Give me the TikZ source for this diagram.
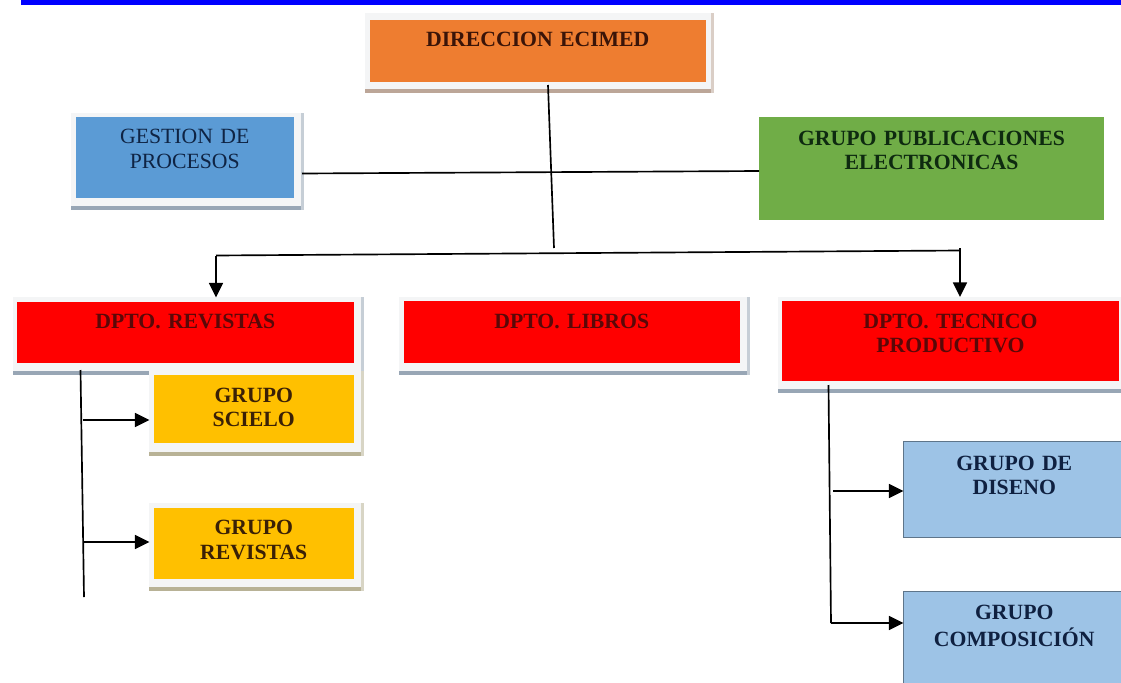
\documentclass[tikz,border=0pt]{standalone}
\usepackage{fontspec}
\setmainfont{Liberation Serif}
\usetikzlibrary{arrows.meta}
\definecolor{cOrange}{HTML}{EE7D30}
\definecolor{cMid}{HTML}{5B9BD5}
\definecolor{cGreen}{HTML}{70AD47}
\definecolor{cRed}{HTML}{FF0000}
\definecolor{cGold}{HTML}{FFC000}
\definecolor{cPale}{HTML}{9DC3E6}
\definecolor{cPanel}{HTML}{F4F5F6}
\definecolor{cBandB}{HTML}{98A6B5}
\definecolor{cBandO}{HTML}{BCA698}
\definecolor{cBandY}{HTML}{B8B296}
\definecolor{tOrange}{HTML}{3A1408}
\definecolor{tBlue}{HTML}{0F2444}
\definecolor{tGreen}{HTML}{0E2A10}
\definecolor{tRed}{HTML}{5A0808}
\definecolor{tGold}{HTML}{3A2006}
\definecolor{tPale}{HTML}{0F2040}
\tikzset{
  x=0.75pt,y=-0.75pt,
  boxbase/.style={rectangle,inner sep=0pt,outer sep=0pt,anchor=north,align=center},
  bDir/.style={boxbase,fill=cOrange,text=tOrange},
  bGes/.style={boxbase,fill=cMid,text=tBlue},
  bPub/.style={boxbase,fill=cGreen,text=tGreen},
  bDep/.style={boxbase,fill=cRed,text=tRed},
  bGold/.style={boxbase,fill=cGold,text=tGold},
  bPale/.style={boxbase,fill=cPale,draw=cPale!60!black,line width=0.6pt,text=tPale},
  conn/.style={draw=black,line width=1.25pt},
  arr/.style={conn,-{Triangle[length=11pt,width=10.5pt]}},
}
% panel behind a box: x1 y1 x2 y2 band colour
\newcommand{\panelbg}[5]{%
  \fill[cPanel] (#1,#2) rectangle (#3,#4);
  \fill[#5] (#1,#4-4.5) rectangle (#3,#4);
  \fill[#5!55!white] (#3-3,#2) rectangle (#3,#4);
}
% name, style, x1, y1, x2, y2, first baseline y, line skip (px), text
\newcommand{\labbox}[9]{%
  \pgfmathsetmacro{\bw}{(#5-#3)*0.75}%
  \pgfmathsetmacro{\bh}{(#7-#4)*0.75}%
  \pgfmathsetmacro{\bd}{(#6-#7)*0.75}%
  \pgfmathsetmacro{\bs}{#8*0.75}%
  \pgfmathsetmacro{\cx}{(#3+#5)/2}%
  \node[#2,text width=\bw pt,text height=\bh pt,text depth=\bd pt,
        font=\fontsize{16.3}{\bs}\selectfont] (#1) at (\cx,#4) {#9};%
}
\begin{document}
\begin{tikzpicture}
\useasboundingbox (0,0) rectangle (1121,682);
\fill[white] (0,0) rectangle (1121,682);
\fill[blue] (21,0) rectangle (1121,5);

\panelbg{365}{13}{714}{93}{cBandO}
\panelbg{71}{113}{304}{210}{cBandB}
\panelbg{13}{297}{364}{375}{cBandB}
\panelbg{399}{297}{750}{375}{cBandB}
\panelbg{778}{297}{1124}{393}{cBandB}
\panelbg{149}{371}{364}{456}{cBandY}
\panelbg{149}{503}{364}{591}{cBandY}

\labbox{dir}{bDir}{369.5}{20}{706}{81.5}{46.5}{24}{\bfseries DIRECCION ECIMED}
\labbox{ges}{bGes}{76}{116.5}{293.5}{198}{143.3}{25.5}{GESTION DE\\PROCESOS}
\labbox{pub}{bPub}{759}{116.5}{1104}{220}{145}{24}{\bfseries GRUPO PUBLICACIONES\\ELECTRONICAS}
\labbox{rev}{bDep}{17}{301.5}{353.5}{363}{328}{24}{\bfseries DPTO. REVISTAS}
\labbox{lib}{bDep}{403.5}{301}{740}{362.5}{328}{24}{\bfseries DPTO. LIBROS}
\labbox{tec}{bDep}{782}{301}{1119}{380.5}{328}{24.5}{\bfseries DPTO. TECNICO\\PRODUCTIVO}
\labbox{sci}{bGold}{153.5}{375}{354}{443}{402}{24.5}{\bfseries GRUPO\\SCIELO}
\labbox{grv}{bGold}{153.5}{508}{354}{579}{534}{25}{\bfseries GRUPO\\REVISTAS}
\labbox{dis}{bPale}{903.5}{441.5}{1125}{537}{470.5}{24}{\bfseries GRUPO DE\\DISENO}
\labbox{com}{bPale}{903.5}{591}{1125}{690}{619}{27}{\bfseries GRUPO\\COMPOSICIÓN}

\coordinate (dirOut) at (548,85);
\coordinate (trunkEnd) at (554,248);
\coordinate (gesOut) at (302,173.5);
\coordinate (pubIn) at (759,171);
\coordinate (busL) at (216,255.5);
\coordinate (busR) at (960,250.5);
\coordinate (busRtop) at (960,248);
\coordinate (revDrop) at (80.5,370);
\coordinate (revEnd) at (84,597);
\coordinate (revA) at (83,420);
\coordinate (revB) at (84,542);
\coordinate (tecDrop) at (828.5,385);
\coordinate (tecEnd) at (831,623);
\coordinate (tecA) at (833,491);

\draw[conn] (dirOut) -- (trunkEnd);
\draw[conn] (gesOut) -- (pubIn);
\draw[conn] (busL) -- (busR);
\draw[arr,shorten >=3pt] (busL) -- (busL |- rev.north);
\draw[arr,shorten >=3pt] (busRtop) -- (busR |- tec.north);
\draw[conn] (revDrop) -- (revEnd);
\draw[arr,shorten >=3pt] (revA) -- (revA -| sci.west);
\draw[arr,shorten >=3pt] (revB) -- (revB -| grv.west);
\draw[conn] (tecDrop) -- (tecEnd);
\draw[arr] (tecA) -- (tecA -| dis.west);
\draw[arr] (tecEnd) -- (tecEnd -| com.west);
\end{tikzpicture}
\end{document}
